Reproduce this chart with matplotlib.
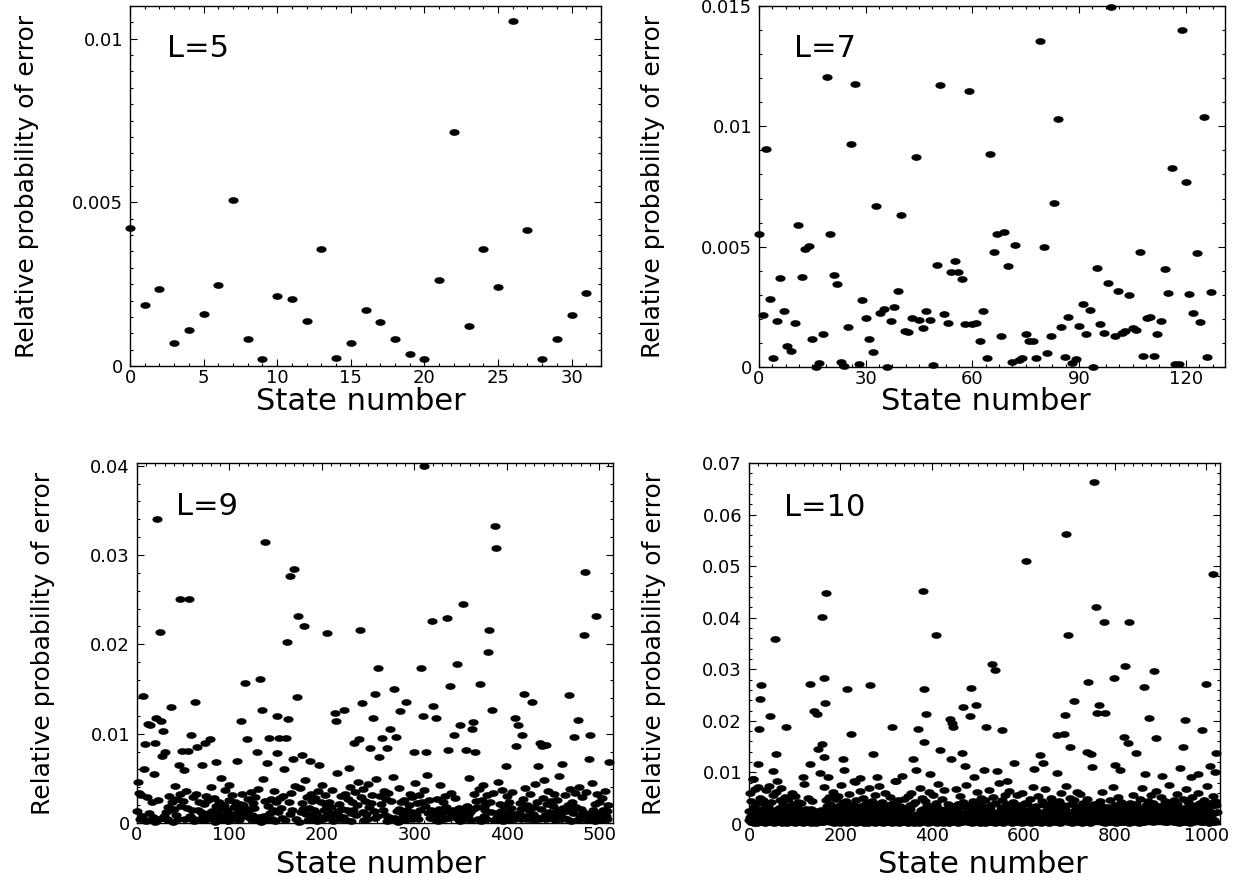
import numpy as np
import matplotlib
matplotlib.use("Agg")
import matplotlib.pyplot as plt
from matplotlib.path import Path
from matplotlib.ticker import MultipleLocator, FuncFormatter

plt.rcParams['font.family'] = ['DejaVu Sans']

# values in units of 1e-3
L5_values = [4.21, 1.87, 2.34, 0.71, 1.09, 1.59, 2.47, 5.08, 0.82, 0.20, 2.13, 2.05, 1.38, 3.57, 0.23, 0.69,
             1.70, 1.33, 0.83, 0.38, 0.22, 2.62, 7.15, 1.22, 3.56, 2.41, 10.53, 4.17, 0.20, 0.83, 1.57, 2.23]

L7_values = [5.52, 2.16, 9.04, 2.84, 0.38, 1.91, 3.69, 2.31, 0.89, 0.65, 1.84, 5.90, 3.74, 4.90, 5.01, 1.15,
             0.00, 0.18, 1.39, 12.04, 5.52, 3.81, 3.44, 0.21, 0.03, 1.66, 9.25, 11.75, 0.14, 2.78, 2.04, 1.18,
             0.63, 6.70, 2.25, 2.43, 0.00, 1.91, 2.50, 3.17, 6.31, 1.50, 1.46, 2.02, 8.73, 1.97, 1.64, 2.34,
             1.97, 0.10, 4.23, 11.70, 2.21, 1.84, 3.95, 4.41, 3.95, 3.64, 1.78, 11.47, 1.78, 1.81, 1.06, 2.34,
             0.36, 8.86, 4.78, 5.51, 1.29, 5.63, 4.20, 0.22, 5.06, 0.28, 0.38, 1.36, 1.06, 1.06, 0.38, 13.56,
             4.99, 0.60, 1.29, 6.80, 10.32, 1.68, 0.40, 2.06, 0.18, 0.32, 1.72, 2.63, 1.36, 2.36, 0.00, 4.10,
             1.78, 1.42, 3.50, 14.97, 1.27, 3.17, 1.42, 1.49, 2.98, 1.60, 1.53, 4.76, 0.45, 2.04, 2.09, 0.45,
             1.39, 1.91, 4.09, 3.06, 8.28, 0.14, 0.14, 13.99, 7.68, 3.02, 2.25, 4.74, 1.88, 10.38, 0.42, 3.12]

L9_base = [
    1.3, 4.6, 3.4, 0.5, 3.1, 0.8, 2.2, 0.4, 6.0, 1.7, 0.2, 2.9, 0.6, 1.1, 3.8, 0.3,
    2.4, 0.7, 5.5, 1.9, 0.1, 4.7, 1.0, 2.6, 0.4, 3.3, 1.5, 0.2, 2.0, 0.8, 3.5, 1.2,
    0.5, 1.8, 0.3, 3.0, 1.4, 0.6, 2.3, 0.1, 1.6, 4.1, 0.9, 2.7, 0.4, 1.3, 3.2, 0.7,
    1.9, 0.2, 2.5, 1.1, 0.5, 3.6, 1.7, 0.3, 2.2, 0.8, 4.4, 1.4, 0.6, 2.9, 0.2, 1.0,
    3.3, 0.7, 1.5, 2.4, 0.4, 1.2, 5.1, 0.9, 2.1, 0.3, 1.6, 3.0, 0.5, 2.6, 1.1, 0.2,
    4.0, 1.3, 0.6, 2.8, 0.1, 1.9, 3.4, 0.8, 1.2, 2.3, 0.4, 5.0, 1.7, 0.3, 2.0, 3.7,
    0.9, 1.5, 0.2, 2.6, 4.2, 0.6, 1.0, 3.1, 0.4, 1.8, 2.4, 0.7, 3.9, 1.2, 0.3, 2.1,
    1.4, 0.5, 3.3, 2.0, 0.8, 4.6, 1.1, 0.2, 2.7, 1.6, 0.6, 3.5, 0.9, 2.2, 0.3, 1.7,
    2.9, 0.4, 1.3, 3.8, 0.7, 2.0, 0.1, 1.5, 4.9, 0.8, 2.5, 1.0, 0.3, 3.2, 1.9, 0.6,
    1.1, 2.7, 0.5, 1.4, 3.6, 0.2, 2.3, 4.5, 0.9, 1.2, 0.4, 2.8, 1.7, 0.6, 3.0, 2.1,
    0.3, 1.8, 5.3, 0.7, 2.4, 1.0, 0.2, 3.4, 1.5, 0.8, 2.0, 4.1, 0.5, 1.3, 2.6, 0.1,
    3.9, 1.2, 0.6, 2.2, 1.6, 0.4, 4.8, 1.0, 2.9, 0.3, 1.7, 0.7, 3.3, 2.5, 0.9, 1.4,
    0.5, 2.8, 1.1, 0.2, 3.6, 1.9, 0.7, 2.3, 4.3, 0.4, 1.5, 3.1, 0.8, 2.0, 0.3, 1.2,
    2.4, 0.6, 1.8, 3.7, 0.2, 1.0, 2.6, 0.5, 5.6, 1.3, 0.9, 2.1, 0.4, 3.0, 1.6, 0.7,
    1.9, 3.2, 0.3, 1.4, 2.7, 0.8, 4.0, 1.1, 0.2, 2.3, 1.5, 0.6, 3.5, 0.9, 2.0, 4.6,
    0.4, 1.7, 2.9, 0.7, 1.2, 3.8, 0.3, 2.5, 1.0, 0.5, 4.4, 1.8, 0.2, 2.2, 3.1, 0.9,
    1.3, 0.6, 2.4, 4.9, 0.8, 1.6, 0.3, 3.0, 2.1, 0.5, 1.4, 3.6, 0.9, 2.7, 0.2, 1.8,
    3.4, 0.7, 1.1, 2.5, 0.4, 5.2, 1.9, 0.6, 2.8, 1.3, 0.1, 3.9, 1.6, 0.8, 2.3, 0.5,
    1.0, 2.6, 0.3, 4.1, 1.5, 0.7, 2.0, 3.3, 0.4, 1.2, 2.9, 0.6, 1.7, 4.5, 0.9, 2.2,
    0.5, 3.1, 1.4, 0.2, 2.4, 1.0, 3.7, 0.8, 1.9, 0.3, 5.4, 1.1, 2.6, 0.6, 1.5, 3.2,
    2.0, 0.4, 1.3, 3.5, 0.9, 2.7, 0.2, 1.6, 4.2, 0.7, 1.1, 2.3, 0.5, 3.0, 1.8, 0.3,
    4.7, 1.2, 0.6, 2.1, 3.4, 0.8, 1.5, 0.3, 2.8, 1.0, 3.9, 0.5, 1.7, 2.4, 0.2, 1.3,
    0.7, 2.9, 1.4, 0.4, 3.6, 1.9, 0.9, 5.0, 1.2, 0.3, 2.2, 1.6, 0.6, 3.3, 1.0, 2.5,
    1.8, 0.5, 3.8, 1.1, 0.2, 2.6, 4.3, 0.8, 1.4, 2.0, 0.4, 3.1, 1.7, 0.6, 2.3, 1.2,
    0.9, 3.4, 0.3, 1.6, 2.8, 0.7, 1.1, 4.6, 0.5, 2.1, 1.3, 3.7, 0.2, 1.9, 0.8, 2.6,
    3.0, 1.2, 0.6, 2.4, 0.3, 1.7, 3.5, 1.0, 0.4, 2.9, 1.5, 0.7, 4.1, 1.1, 2.2, 0.5,
    1.6, 0.2, 2.7, 1.3, 3.9, 0.8, 2.0, 0.4, 1.4, 3.2, 0.6, 2.5, 1.0, 0.3, 1.8, 4.4,
    0.7, 2.3, 1.1, 0.5, 3.0, 1.6, 0.2, 2.8, 4.8, 0.9, 1.4, 0.4, 2.1, 3.6, 1.2, 0.6,
    2.5, 0.8, 1.9, 3.3, 0.3, 1.2, 2.6, 0.7, 1.5, 5.3, 1.0, 0.4, 2.2, 1.7, 0.6, 3.1,
    1.3, 0.5, 2.0, 0.9, 3.8, 1.4, 0.2, 2.4, 1.1, 0.6, 3.4, 1.8, 0.3, 2.7, 4.0, 0.8,
    1.6, 2.9, 0.4, 1.2, 2.2, 0.7, 3.5, 1.0, 0.3, 1.9, 2.6, 0.5, 4.5, 1.4, 0.9, 2.1,
    0.2, 1.7, 3.2, 0.6, 2.4, 1.1, 0.3, 2.8, 1.5, 0.4, 3.6, 0.8, 1.3, 0.5, 2.0, 0.1,
]
L9_peak_states = [6, 9, 12, 14, 19, 21, 22, 25, 26, 27, 28, 30, 37, 45, 47, 49, 51, 55, 56, 58,
                  63, 65, 70, 74, 79, 86, 108, 113, 117, 119, 130, 133, 135, 139, 141, 143, 151, 152, 154, 159,
                  161, 162, 163, 166, 169, 170, 173, 174, 178, 181, 187, 197, 206, 214, 215, 224, 229, 235, 240, 241,
                  243, 252, 255, 258, 261, 262, 265, 271, 274, 278, 280, 285, 291, 300, 307, 309, 311, 313, 319, 320,
                  323, 335, 336, 339, 343, 346, 349, 353, 356, 362, 364, 366, 371, 380, 381, 384, 387, 388, 399, 409,
                  410, 412, 417, 419, 427, 434, 436, 438, 442, 460, 467, 473, 477, 484, 485, 489, 490, 497, 511]
L9_peak_values = [14.2, 8.8, 11.1, 11.0, 9.0, 11.7, 34.0, 21.4, 11.4, 7.5, 10.3, 8.0, 13.0, 6.5, 25.1, 8.1, 5.9, 8.1, 25.1, 9.8,
                  13.6, 8.5, 6.5, 8.9, 9.4, 6.8, 6.9, 11.4, 15.7, 9.4, 8.0, 16.1, 12.6, 31.5, 6.7, 9.5, 7.8, 12.0, 9.5, 6.0,
                  9.5, 20.3, 11.6, 27.7, 7.2, 28.4, 14.1, 23.2, 7.6, 22.1, 6.9, 6.5, 21.3, 12.3, 11.4, 12.7, 6.2, 8.9, 9.4, 21.6,
                  13.4, 8.4, 11.7, 14.4, 17.4, 7.4, 9.5, 8.4, 10.5, 15.0, 9.6, 12.5, 13.6, 8.0, 17.3, 12.0, 40.0, 8.0, 22.6, 13.1,
                  11.8, 22.9, 8.2, 15.3, 9.9, 17.8, 11.0, 24.5, 8.2, 10.5, 11.3, 7.9, 15.6, 19.1, 21.6, 12.6, 33.2, 30.8, 6.4, 11.7,
                  8.6, 11.0, 9.9, 14.4, 13.5, 6.4, 9.0, 8.6, 8.7, 6.6, 14.3, 9.6, 11.5, 21.0, 28.1, 7.2, 9.9, 23.2, 6.8]

L10_base = [
    2.6, 0.8, 1.4, 6.1, 0.3, 4.4, 1.9, 0.5, 8.7, 2.2, 0.1, 3.3, 1.0, 6.8, 0.6, 2.9,
    1.5, 4.0, 0.2, 7.2, 1.2, 0.7, 3.6, 2.0, 0.4, 5.1, 1.7, 0.9, 3.0, 0.3, 4.7, 1.1,
    0.6, 2.4, 3.9, 0.2, 1.3, 6.5, 0.8, 2.7, 1.6, 0.4, 3.4, 7.4, 0.9, 2.1, 0.5, 1.8,
    4.2, 0.3, 1.0, 2.8, 5.6, 0.7, 1.4, 0.2, 3.7, 2.3, 0.6, 1.2, 6.3, 0.4, 2.5, 1.9,
    0.8, 3.1, 1.5, 0.3, 4.6, 2.0, 0.5, 7.0, 1.1, 0.2, 2.6, 3.8, 0.7, 1.6, 5.3, 0.4,
    2.2, 0.9, 3.5, 1.3, 0.1, 2.9, 4.9, 0.6, 1.8, 3.2, 0.3, 1.0, 2.4, 6.0, 0.8, 1.5,
    3.9, 0.5, 1.2, 2.7, 0.2, 5.5, 1.7, 0.9, 3.3, 0.4, 2.0, 1.4, 4.3, 0.6, 2.8, 1.0,
    0.3, 1.9, 4.1, 0.7, 2.5, 1.1, 0.2, 3.6, 7.8, 1.5, 0.5, 2.2, 0.9, 3.0, 1.3, 0.4,
    5.0, 1.6, 0.3, 2.4, 0.8, 3.7, 1.2, 0.1, 2.9, 4.5, 0.6, 1.8, 0.4, 2.1, 6.6, 1.0,
    0.7, 2.6, 1.4, 0.2, 3.4, 0.9, 5.8, 1.7, 0.5, 2.3, 1.1, 4.0, 0.3, 1.5, 2.8, 0.6,
    3.1, 1.2, 0.4, 7.1, 1.9, 0.8, 2.5, 0.2, 4.6, 1.3, 3.5, 0.6, 2.0, 0.9, 1.6, 5.2,
    0.5, 2.2, 3.8, 1.0, 0.3, 2.7, 1.4, 6.2, 0.7, 1.8, 0.2, 3.2, 2.4, 0.6, 4.8, 1.1,
    1.7, 0.4, 2.9, 5.4, 0.9, 1.3, 0.2, 3.6, 2.1, 0.6, 7.6, 1.5, 0.3, 2.6, 1.0, 4.2,
    0.8, 3.0, 1.2, 0.5, 2.4, 4.4, 0.2, 1.7, 3.3, 0.7, 1.1, 5.9, 0.4, 2.0, 1.4, 0.1,
    2.8, 1.6, 0.3, 3.9, 1.0, 0.6, 2.3, 8.1, 1.4, 0.2, 4.7, 1.9, 0.8, 3.1, 0.5, 2.5,
    1.2, 0.4, 6.4, 2.0, 0.9, 3.5, 1.5, 0.3, 2.6, 5.0, 0.7, 1.8, 0.2, 3.7, 1.1, 0.6,
    4.1, 2.3, 0.5, 1.4, 0.1, 2.9, 6.9, 1.0, 0.4, 3.3, 1.7, 0.8, 2.2, 4.5, 0.3, 1.6,
    0.9, 3.6, 1.1, 0.2, 5.7, 2.0, 0.6, 1.3, 2.7, 0.4, 3.9, 1.5, 7.3, 0.7, 2.4, 1.0,
    0.3, 1.8, 4.3, 0.8, 2.1, 0.2, 3.4, 1.2, 0.5, 6.1, 1.6, 2.6, 0.4, 1.0, 3.0, 0.7,
    2.5, 0.6, 1.4, 3.7, 0.3, 5.3, 1.1, 0.9, 2.2, 0.1, 4.0, 1.7, 0.5, 2.8, 1.3, 8.4,
    0.4, 2.0, 3.2, 1.0, 0.7, 1.5, 4.6, 0.2, 2.4, 1.8, 0.6, 3.5, 1.2, 0.3, 6.7, 2.1,
    1.6, 0.5, 2.7, 0.9, 4.9, 1.3, 0.3, 3.1, 1.9, 0.7, 2.3, 0.2, 5.5, 1.4, 0.8, 3.6,
    2.9, 1.1, 0.4, 6.0, 1.7, 0.6, 2.5, 3.8, 0.2, 1.0, 4.3, 1.5, 0.8, 2.2, 0.3, 1.9,
    0.6, 3.4, 1.3, 0.2, 2.0, 7.0, 0.9, 1.6, 0.4, 2.8, 1.2, 5.1, 0.5, 3.0, 1.8, 0.7,
    4.4, 1.0, 0.3, 2.6, 1.4, 0.8, 3.7, 0.1, 2.2, 6.3, 1.1, 0.5, 2.9, 1.6, 0.4, 3.3,
    1.2, 2.4, 0.7, 5.6, 0.3, 1.9, 2.8, 1.0, 0.6, 4.1, 1.5, 0.2, 3.2, 7.7, 0.9, 2.0,
    0.5, 1.7, 3.5, 0.8, 2.3, 0.4, 1.3, 4.8, 0.2, 2.7, 1.1, 6.5, 0.7, 1.9, 3.0, 0.3,
    2.1, 0.9, 1.5, 3.9, 0.5, 2.6, 0.2, 1.8, 5.2, 1.0, 0.6, 3.4, 1.4, 0.3, 2.4, 4.6,
    0.8, 3.1, 1.2, 0.4, 6.8, 1.6, 0.7, 2.9, 0.2, 1.3, 3.8, 0.5, 2.1, 1.0, 5.4, 0.6,
    1.9, 0.3, 2.5, 1.4, 0.9, 4.2, 0.6, 3.3, 1.7, 0.1, 2.2, 7.5, 0.8, 1.2, 3.6, 0.4,
    2.7, 1.1, 0.5, 3.0, 5.9, 0.8, 1.5, 0.2, 2.4, 1.0, 4.4, 0.6, 1.9, 3.2, 0.3, 1.4,
    0.7, 2.0, 6.2, 1.3, 0.4, 2.8, 1.0, 3.9, 0.6, 1.7, 0.2, 5.0, 2.3, 0.9, 1.5, 0.3,
    3.4, 0.8, 1.6, 0.2, 2.5, 4.7, 1.2, 0.5, 3.1, 1.8, 0.7, 2.2, 6.6, 0.4, 1.1, 2.9,
    1.0, 0.3, 3.6, 1.5, 0.6, 2.0, 5.3, 0.9, 1.3, 2.7, 0.2, 4.1, 1.7, 0.5, 3.0, 1.2,
    0.4, 2.3, 1.1, 7.9, 0.8, 1.6, 3.3, 0.3, 2.1, 0.7, 4.6, 1.4, 0.2, 2.6, 1.0, 5.7,
    1.8, 0.5, 2.9, 1.2, 0.3, 3.8, 0.9, 1.5, 6.4, 0.6, 2.2, 1.0, 3.5, 0.4, 1.7, 2.5,
    0.2, 4.3, 1.3, 0.7, 2.6, 1.9, 0.4, 3.1, 1.1, 5.6, 0.8, 2.0, 0.3, 1.4, 3.7, 0.9,
    2.4, 1.0, 0.5, 3.4, 1.6, 0.2, 6.1, 1.2, 2.8, 0.6, 1.9, 4.0, 0.4, 2.2, 1.1, 0.7,
    3.9, 0.3, 1.8, 2.5, 0.9, 1.3, 0.5, 4.9, 1.6, 0.2, 3.0, 1.0, 2.3, 7.2, 0.6, 1.5,
    0.8, 2.7, 1.2, 0.4, 3.5, 2.0, 0.7, 1.4, 5.5, 0.3, 2.4, 1.1, 0.6, 3.2, 1.8, 0.2,
    4.5, 1.4, 0.6, 2.1, 0.3, 3.6, 1.0, 6.7, 0.8, 1.7, 2.6, 0.4, 1.3, 3.9, 0.7, 2.2,
    1.1, 0.2, 3.0, 1.6, 5.1, 0.5, 2.3, 0.9, 1.4, 4.2, 0.3, 1.8, 2.7, 0.6, 1.2, 3.4,
    0.5, 2.5, 1.7, 0.3, 1.0, 4.4, 0.8, 2.9, 1.3, 0.2, 6.0, 1.5, 0.7, 2.1, 3.7, 1.0,
    2.0, 0.6, 3.3, 1.2, 0.4, 2.6, 7.4, 0.9, 1.6, 3.1, 0.3, 2.4, 1.1, 5.0, 0.5, 1.8,
    0.9, 3.8, 1.4, 0.2, 2.2, 1.0, 0.6, 4.7, 1.5, 2.8, 0.3, 1.3, 3.5, 0.7, 6.3, 1.1,
    2.6, 0.4, 1.9, 5.8, 0.8, 1.2, 3.2, 0.5, 2.0, 0.1, 4.1, 1.7, 0.9, 2.5, 1.4, 0.3,
    1.3, 3.0, 0.7, 2.3, 4.9, 0.4, 1.6, 0.9, 3.6, 1.1, 0.2, 2.7, 8.0, 1.0, 0.5, 2.1,
    0.6, 1.5, 3.9, 0.3, 2.4, 1.2, 0.8, 5.4, 1.8, 0.4, 2.9, 1.3, 0.6, 3.3, 1.0, 4.5,
    2.2, 0.7, 1.1, 3.5, 0.3, 6.2, 1.6, 2.5, 0.5, 1.9, 0.2, 4.0, 1.3, 2.8, 0.8, 1.4,
    0.4, 3.2, 1.7, 0.9, 2.1, 0.3, 4.6, 1.2, 0.6, 3.0, 1.5, 7.1, 0.8, 2.3, 1.0, 0.5,
    3.7, 1.3, 0.2, 2.6, 1.8, 0.7, 3.1, 5.2, 1.0, 0.4, 2.2, 1.4, 0.9, 4.3, 0.3, 1.9,
    1.2, 0.6, 2.8, 1.5, 6.5, 0.3, 1.9, 0.8, 2.4, 3.6, 1.1, 0.5, 2.0, 1.6, 0.2, 3.3,
    0.8, 4.1, 1.3, 0.4, 2.7, 1.0, 0.6, 3.4, 5.7, 1.7, 0.3, 2.2, 1.2, 0.9, 3.8, 1.5,
    2.5, 0.5, 1.6, 3.1, 0.2, 2.0, 4.8, 1.1, 0.7, 2.6, 1.4, 0.4, 6.9, 1.8, 0.9, 2.3,
    0.3, 1.7, 2.9, 0.8, 3.6, 1.2, 0.5, 2.1, 1.5, 4.4, 0.2, 3.0, 1.0, 0.6, 2.7, 5.6,
    1.4, 0.9, 2.3, 4.0, 0.4, 1.8, 3.3, 0.7, 1.1, 0.3, 2.6, 6.4, 1.5, 0.8, 2.0, 1.2,
    3.5, 0.6, 1.3, 2.4, 0.9, 5.3, 1.6, 0.2, 2.8, 1.0, 0.5, 3.7, 1.9, 0.4, 4.5, 1.1,
    0.7, 2.2, 1.0, 0.3, 3.2, 1.5, 7.6, 0.8, 2.5, 1.2, 0.6, 2.0, 4.2, 0.9, 1.4, 3.0,
    1.8, 0.4, 4.6, 1.1, 0.7, 2.3, 0.3, 3.8, 1.4, 5.9, 0.8, 1.6, 0.2, 2.7, 1.0, 3.4,
    0.5, 2.9, 1.6, 0.9, 2.1, 4.9, 1.2, 0.4, 3.1, 1.7, 0.6, 2.4, 6.8, 1.3, 0.3, 2.0,
    4.3, 1.0, 0.6, 3.5, 1.4, 0.2, 2.6, 1.9, 0.8, 5.2, 1.2, 0.4, 3.0, 2.2, 0.7, 1.5,
    0.9, 3.7, 2.0, 0.5, 1.3, 6.0, 0.3, 2.8, 1.6, 0.8, 4.1, 1.1, 0.4, 2.5, 3.3, 1.0,
    2.1, 0.3, 1.7, 4.7, 0.7, 1.2, 3.1, 0.5, 2.4, 7.3, 1.4, 0.9, 2.9, 0.2, 1.8, 4.0,
    1.3, 2.6, 0.6, 3.4, 1.0, 0.4, 5.5, 1.9, 0.8, 2.2, 4.4, 0.3, 1.5, 3.6, 0.7, 2.3,
]
L10_peak_states = [9, 20, 22, 24, 27, 47, 53, 56, 58, 62, 80, 119, 133, 134, 142, 148, 150, 155, 159, 160,
                   164, 165, 167, 169, 173, 205, 208, 215, 223, 230, 243, 265, 272, 279, 312, 321, 334, 358, 365, 369,
                   380, 382, 383, 388, 396, 410, 418, 440, 442, 445, 447, 466, 467, 473, 484, 485, 491, 497, 513, 519,
                   531, 537, 542, 553, 564, 580, 606, 624, 637, 642, 673, 674, 688, 692, 693, 697, 702, 710, 739, 741,
                   748, 750, 755, 759, 761, 766, 777, 779, 798, 801, 812, 820, 823, 829, 832, 847, 863, 867, 874, 885,
                   889, 903, 943, 950, 954, 967, 982, 991, 1000, 1009, 1015, 1020, 1022]
L10_peak_values = [8.7, 11.7, 18.5, 24.3, 26.9, 20.9, 10.2, 35.8, 13.6, 8.4, 18.9, 9.2, 11.7, 27.2, 21.9, 21.3, 14.6, 9.9, 15.6, 40.2,
                   13.0, 28.3, 23.5, 44.7, 9.1, 12.6, 10.4, 26.2, 17.4, 8.4, 8.9, 26.9, 13.5, 9.1, 18.9, 8.4, 9.4, 12.6, 10.4, 18.5,
                   45.2, 26.2, 15.9, 21.3, 9.7, 36.6, 14.4, 20.4, 12.6, 19.6, 18.8, 13.8, 22.7, 11.3, 20.9, 26.4, 9.1, 23.1, 10.4, 18.9,
                   31.1, 29.8, 10.2, 18.3, 8.4, 11.8, 51.0, 10.7, 13.3, 11.8, 9.9, 17.2, 17.4, 21.1, 56.2, 36.6, 15.0, 23.8, 13.9, 27.5,
                   13.6, 11.1, 66.4, 42.0, 21.5, 23.0, 39.2, 21.5, 28.4, 11.5, 10.5, 16.9, 30.6, 15.7, 39.2, 13.8, 26.6, 9.7, 20.5, 29.7,
                   16.7, 9.4, 10.9, 14.9, 20.2, 9.1, 9.7, 18.3, 27.2, 11.2, 48.4, 10.0, 13.7]


def merge(base, states, values):
    vals = np.array(base, dtype=float)
    vals[np.array(states)] = values
    return vals


panels = [
    dict(vals=np.array(L5_values), label="L=5", rect=[130, 6, 601, 366], xlim=32, ylim=0.011,
         xmaj=5, xmin=1, ymaj=0.005, ymin=0.0005, lx=0.079, ly=0.882, yl=-0.2187, xl=(0.49, -0.122)),
    dict(vals=np.array(L7_values), label="L=7", rect=[759, 6, 1225, 367], xlim=131, ylim=0.015,
         xmaj=30, xmin=3.75, ymaj=0.005, ymin=0.001, lx=0.075, ly=0.882, yl=-0.2275, xl=(0.487, -0.119)),
    dict(vals=merge(L9_base, L9_peak_states, L9_peak_values), label="L=9", rect=[137, 463, 613, 823],
         xlim=515, ylim=0.0403, xmaj=100, xmin=10, ymaj=0.01, ymin=0.002, lx=0.082, ly=0.878,
         yl=-0.1975, xl=(0.513, -0.139)),
    dict(vals=merge(L10_base, L10_peak_states, L10_peak_values), label="L=10", rect=[749, 463, 1220, 824],
         xlim=1030, ylim=0.07, xmaj=200, xmin=20, ymaj=0.01, ymin=0.002, lx=0.074, ly=0.878,
         yl=-0.2017, xl=(0.497, -0.136)),
]

W, H = 1249, 877
fig = plt.figure(figsize=(W / 100, H / 100), dpi=100)

# wide ellipse marker like the original dots
t = np.linspace(0, 2 * np.pi, 41)
ellipse = Path(np.column_stack([np.cos(t), 0.6 * np.sin(t)]), closed=True)

fmt = FuncFormatter(lambda v, p: "0" if abs(v) < 1e-12 else f"{v:g}")

for p in panels:
    l, t_, r, b = p["rect"]
    ax = fig.add_axes([l / W, 1 - b / H, (r - l) / W, (b - t_) / H])
    vals = p["vals"] * 1e-3
    states = np.arange(len(vals))
    ax.plot(states, vals, linestyle="none", marker=ellipse, markersize=6.3,
            color="black", clip_on=False)
    ax.set_xlim(0, p["xlim"])
    ax.set_ylim(0, p["ylim"])
    ax.xaxis.set_major_locator(MultipleLocator(p["xmaj"]))
    ax.xaxis.set_minor_locator(MultipleLocator(p["xmin"]))
    ax.yaxis.set_major_locator(MultipleLocator(p["ymaj"]))
    ax.yaxis.set_minor_locator(MultipleLocator(p["ymin"]))
    ax.yaxis.set_major_formatter(fmt)
    ax.tick_params(which="both", direction="in", top=True, right=True, width=0.8)
    ax.tick_params(which="major", length=5)
    ax.tick_params(which="minor", length=2.5)
    ax.tick_params(axis="y", labelsize=13, pad=5)
    ax.tick_params(axis="x", labelsize=13, pad=2)
    for s in ax.spines.values():
        s.set_linewidth(1.0)

    ax.set_ylabel("Relative probability of error", fontsize=18)
    ax.yaxis.set_label_coords(p["yl"], 0.5)
    ax.yaxis.label.set_va("center")
    ax.set_xlabel("State number", fontsize=22)
    ax.xaxis.set_label_coords(*p["xl"])
    ax.xaxis.label.set_va("baseline")
    ax.text(p["lx"], p["ly"], p["label"], transform=ax.transAxes, fontsize=22,
            ha="left", va="center")

fig.savefig("out.png", dpi=100)
